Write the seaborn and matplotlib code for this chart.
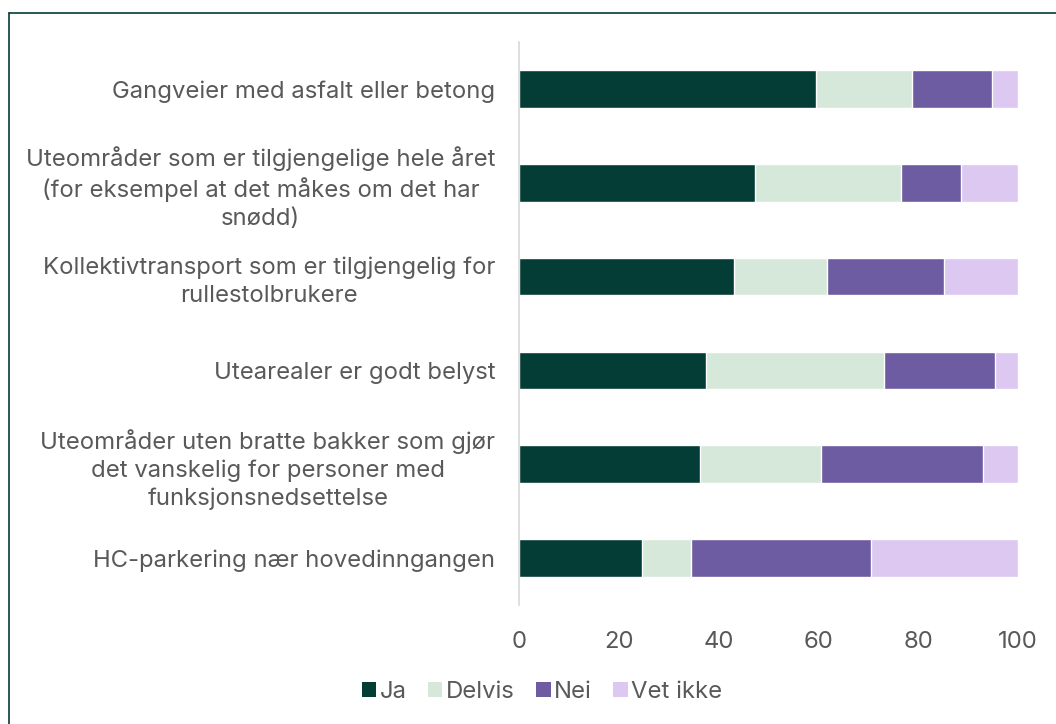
import pandas as pd
import matplotlib.pyplot as plt
import seaborn as sns
from matplotlib.lines import Line2D
from matplotlib.patches import Patch

# data (percent)
categories = [
    "Gangveier med asfalt eller betong",
    "Uteområder som er tilgjengelige hele året\n(for eksempel at det måkes om det har\nsnødd)",
    "Kollektivtransport som er tilgjengelig for\nrullestolbrukere",
    "Utearealer er godt belyst",
    "Uteområder uten bratte bakker som gjør\ndet vanskelig for personer med\nfunksjonsnedsettelse",
    "HC-parkering nær hovedinngangen",
]
ja = [59.6, 47.3, 43.1, 37.5, 36.3, 24.7]
delvis = [19.1, 29.2, 18.7, 35.6, 24.3, 9.7]
nei = [16.1, 12.0, 23.3, 22.2, 32.4, 36.1]
vet_ikke = [5.2, 11.5, 14.9, 4.7, 7.0, 29.5]

series = ["Ja", "Delvis", "Nei", "Vet ikke"]
colors = ["#033d36", "#d6e8da", "#6e5ca2", "#dcc8f0"]
text_color = "#595959"

df = pd.DataFrame({"kategori": categories, "Ja": ja, "Delvis": delvis,
                   "Nei": nei, "Vet ikke": vet_ikke})

# cumulative sums for stacking
cum = df[series].cumsum(axis=1)
cum["kategori"] = df["kategori"]

sns.set_theme(style="white")
plt.rcParams["font.family"] = ["Inter", "DejaVu Sans"]

fig = plt.figure(figsize=(10.56, 7.24), dpi=100)
ax = fig.add_axes([519 / 1056, 1 - 605 / 724, (1018 - 519) / 1056, (605 - 42) / 724])

# draw from the back so each segment shows
for name, col in zip(series[::-1], colors[::-1]):
    sns.barplot(data=cum, x=name, y="kategori", color=col, width=0.4,
                saturation=1, orient="h", ax=ax)

ax.set_xlim(0, 100)
ax.set_ylim(5.5, -0.5)
ax.set_xticks(range(0, 101, 20))
ax.set_xlabel("")
ax.set_ylabel("")
ax.tick_params(axis="both", length=0, labelsize=17.2, colors=text_color)
ax.tick_params(axis="x", pad=19)
ax.tick_params(axis="y", pad=17)
for lab in ax.get_yticklabels():
    lab.set_multialignment("center")
    lab.set_linespacing(1.32)

for s in ["top", "right", "bottom"]:
    ax.spines[s].set_visible(False)
ax.spines["left"].set_color("#d9d9d9")
ax.spines["left"].set_linewidth(1.2)

handles = [Patch(facecolor=c, edgecolor="none") for c in colors]
fig.legend(handles, series, loc="center", bbox_to_anchor=(542 / 1056, 1 - 692 / 724),
           ncol=4, frameon=False, fontsize=17.2, handlelength=0.6, handleheight=0.6,
           handletextpad=0.15, columnspacing=0.9, labelcolor=text_color)

# frame lines (top and left only)
fig.add_artist(Line2D([9 / 1056, 1], [1 - 13 / 724, 1 - 13 / 724], color="#033d36", lw=1.2))
fig.add_artist(Line2D([9 / 1056, 9 / 1056], [0, 1 - 13 / 724], color="#033d36", lw=1.2))

fig.savefig("out.png", dpi=100)
